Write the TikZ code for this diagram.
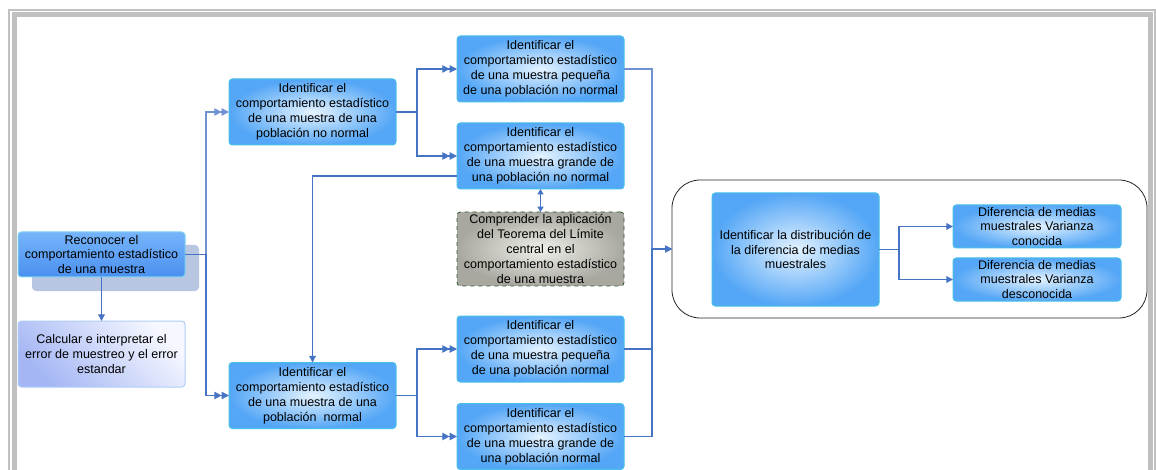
\documentclass[tikz,border=0pt]{standalone}
\usepackage{fontspec}
\setmainfont{Liberation Sans}
\usetikzlibrary{arrows.meta}
% palette
\definecolor{boxedge}{RGB}{72,192,232}
\definecolor{boxout}{RGB}{84,166,246}
\definecolor{boxin}{RGB}{228,243,255}
\definecolor{linkdark}{RGB}{70,116,196}
\definecolor{linkmid}{RGB}{112,146,210}
\definecolor{framegray}{RGB}{192,192,192}
\definecolor{shadowblue}{RGB}{184,198,226}
\definecolor{greyin}{RGB}{240,240,234}
\definecolor{greyout}{RGB}{168,168,160}
\definecolor{dashgreen}{RGB}{48,88,48}
\definecolor{lavlight}{RGB}{246,248,255}
\definecolor{lavdark}{RGB}{164,182,244}
\begin{document}
\begin{tikzpicture}[x=0.75pt,y=-0.75pt,
  every node/.style={font=\fontsize{9.4}{11.2}\selectfont, align=center, inner sep=0pt, outer sep=0pt},
  bluebox/.style={draw=boxedge, line width=0.75pt, rounded corners=2.5pt,
    inner color=boxin, outer color=boxout,
    minimum width=125.25pt, minimum height=49.5pt},
  startbox/.style={draw=boxedge!70!white, line width=0.75pt, rounded corners=2.5pt,
    top color={rgb,255:red,118;green,180;blue,250}, bottom color={rgb,255:red,74;green,144;blue,240},
    minimum width=125.25pt, minimum height=33.75pt},
  lavbox/.style={draw={rgb,255:red,176;green,206;blue,246}, line width=0.75pt, rounded corners=2.5pt,
    top color=lavlight, bottom color=lavdark, shading angle=-45,
    minimum width=125.25pt, minimum height=49.5pt},
  greybox/.style={draw=dashgreen, dashed, line width=0.6pt, rounded corners=2.5pt,
    inner color=greyin, outer color=greyout,
    minimum width=125.25pt, minimum height=55.5pt},
  groupbox/.style={draw=black!85, line width=0.6pt, rounded corners=21pt,
    minimum width=356.25pt, minimum height=103.5pt},
  link/.style={draw=linkdark, line width=0.9pt},
  midlink/.style={draw=linkmid, line width=0.9pt},
  onetip/.style={-{Triangle[length=5pt,width=5pt]}},
  twotips/.style={-{Triangle[length=5.5pt,width=5.5pt]Triangle[length=5.5pt,width=5.5pt]}},
  bothtips/.style={{Triangle[length=4pt,width=4.5pt]}-{Triangle[length=4pt,width=4.5pt]}}
]
\useasboundingbox (0,0) rectangle (1156,470);
\clip (0,0) rectangle (1156,470);
\fill[white] (0,0) rectangle (1156,470);

% page frame
\draw[framegray, line width=1.5pt] (9,600) -- (9,10) -- (1155,10) -- (1155,600);
\draw[framegray, line width=3.75pt] (14.5,600) -- (14.5,14.5) -- (1150.5,14.5) -- (1150.5,600);

% shadow behind the starting box
\fill[shadowblue, rounded corners=3pt] (32,245) rectangle (199,291);

% nodes
\node[startbox] (A) at (101.5,254.5) {Reconocer el\\comportamiento estadístico\\de una muestra};
\node[lavbox] (B) at (101.5,354) {Calcular e interpretar el\\error de muestreo y el error\\estandar};

\node[bluebox] (C) at (312.5,112) {Identificar el\\comportamiento estadístico\\de una muestra de una\\población no normal};
\node[bluebox] (D) at (312.5,395.5) {Identificar el\\comportamiento estadístico\\de una muestra de una\\población\ \ normal};

\node[bluebox] (E1) at (540.5,69) {Identificar el\\comportamiento estadístico\\de una muestra pequeña\\de una población no normal};
\node[bluebox] (E2) at (540.5,156) {Identificar el\\comportamiento estadístico\\de una muestra grande de\\una población no normal};
\node[greybox] (F) at (540.5,249) {Comprender la aplicación\\del Teorema del Límite\\central en el\\comportamiento estadístico\\de una muestra};
\node[bluebox] (G1) at (540.5,349) {Identificar el\\comportamiento estadístico\\de una muestra pequeña\\de una población normal};
\node[bluebox] (G2) at (540.5,436.5) {Identificar el\\comportamiento estadístico\\de una muestra grande de\\una población normal};

\node[groupbox] (group) at (909.5,249) {};
\node[bluebox, minimum height=84.75pt] (H) at (795.5,249.5) {Identificar la distribución de\\la diferencia de medias\\muestrales};
\node[bluebox, minimum width=126pt, minimum height=32.25pt] (I1) at (1037,226.5) {Diferencia de medias\\muestrales Varianza\\conocida};
\node[bluebox, minimum width=126pt, minimum height=32.25pt] (I2) at (1037,279.5) {Diferencia de medias\\muestrales Varianza\\desconocida};

% connectors
\draw[link, onetip] (A.south) -- (B.north);
\draw[midlink, twotips] (A.east) -- ++(21,0) |- (C.west);
\draw[link, twotips] (A.east) -- ++(21,0) |- (D.west);

\draw[link, twotips] (C.east) -- ++(21,0) |- (E1.west);
\draw[link, twotips] (C.east) -- ++(21,0) |- (E2.west);
\coordinate (e2out) at ([yshift=-15pt]E2.west);
\draw[link, onetip] (e2out) -| (D.north);
\draw[link, bothtips] (E2.south) -- (F.north);

\draw[link, twotips] (D.east) -- ++(21,0) |- (G1.west);
\draw[link, twotips] (D.east) -- ++(21,0) |- (G2.west);

\draw[midlink, onetip] (E1.east) -- ++(28,0) |- (group.west);
\draw[link, onetip] (G1.east) -- ++(28,0) |- (group.west);
\draw[link, onetip] (G2.east) -- ++(28,0) |- (group.west);

\draw[link, onetip] (H.east) -- ++(20,0) |- (I1.west);
\draw[link, onetip] (H.east) -- ++(20,0) |- (I2.west);
\end{tikzpicture}
\end{document}
